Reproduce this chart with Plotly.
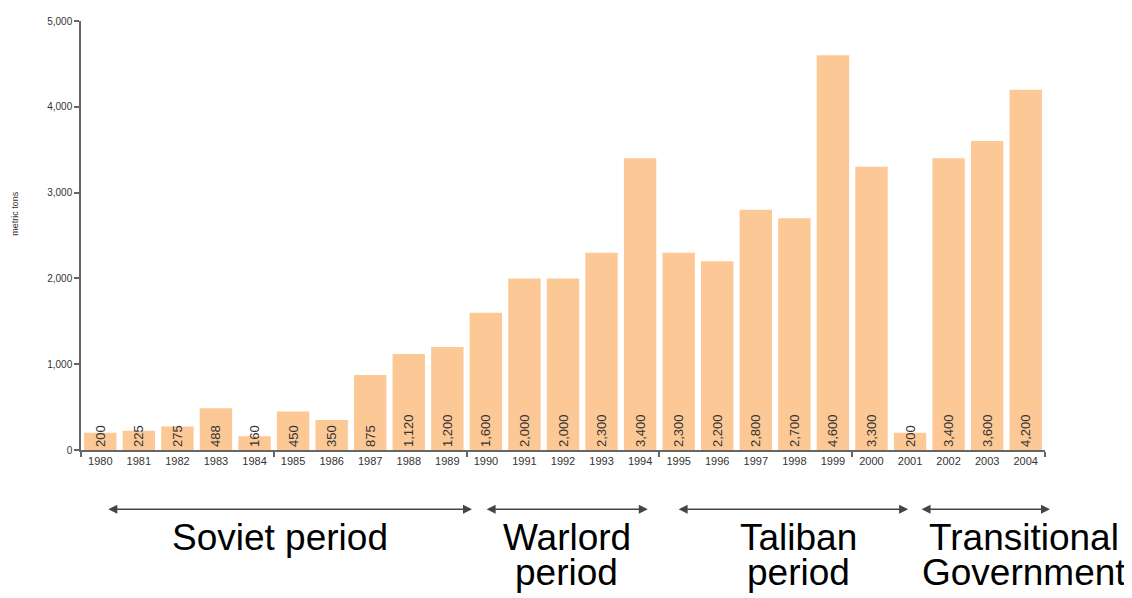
import plotly.graph_objects as go

years = list(range(1980, 2005))
values = [200, 225, 275, 488, 160, 450, 350, 875, 1120, 1200,
          1600, 2000, 2000, 2300, 3400, 2300, 2200, 2800, 2700, 4600,
          3300, 200, 3400, 3600, 4200]
y_ticks = [0, 1000, 2000, 3000, 4000, 5000]
y_tick_labels = ["0", "1,000", "2,000", "3,000", "4,000", "5,000"]
period_lines = [["Soviet period"], ["Warlord", "period"], ["Taliban", "period"],
                ["Transitional", "Government"]]

FONT = "Arial, Liberation Sans, sans-serif"
BAR = "#FCC896"

# the page body adds an 8px offset, so the figure is 8px smaller and margins shifted
fig = go.Figure()
fig.add_trace(go.Bar(
    x=years, y=values, marker=dict(color=BAR, line=dict(width=0)),
    text=[f"{v:,}" for v in values], textposition="inside",
    insidetextanchor="start", textangle=-90,
    textfont=dict(family=FONT, size=13, color="#333333"),
    constraintext="none", cliponaxis=False, hoverinfo="x+y",
))

fig.update_layout(
    width=1124, height=590,
    margin=dict(l=73, r=87, t=7, b=148),
    paper_bgcolor="white", plot_bgcolor="white",
    bargap=0.16, showlegend=False,
    uniformtext=dict(minsize=13, mode="show"),
    font=dict(family=FONT, color="#333333"),
)
fig.update_xaxes(
    range=[1979.5, 2004.5], tickmode="array", tickvals=years,
    ticktext=[str(y) for y in years], ticks="", ticklen=0,
    tickfont=dict(size=11, color="#333333"),
    showline=True, linecolor="#666666", linewidth=1.5, showgrid=False,
    zeroline=False,
    minor=dict(tickmode="array", tickvals=[1979.5, 1984.5, 1989.5, 1994.5, 1999.5, 2004.5],
               ticks="outside", ticklen=5, tickcolor="#666666", tickwidth=1.5),
)
fig.update_yaxes(
    range=[0, 5000], tickmode="array", tickvals=y_ticks, ticktext=y_tick_labels,
    ticks="outside", ticklen=5, tickcolor="#666666", tickwidth=1.5,
    tickfont=dict(size=10, color="#333333"),
    showline=True, linecolor="#666666", linewidth=1.5, showgrid=False,
    zeroline=False,
)

# y axis title
fig.add_annotation(xref="paper", yref="paper", x=-0.068, y=0.552,
                   xanchor="center", yanchor="middle",
                   text="metric tons", textangle=-90, showarrow=False,
                   font=dict(size=9, color="#333333", family=FONT))

# period arrows (year-coordinate spans) and labels
arrow_spans = [(1980.17, 1989.64), (1989.98, 1994.2), (1994.96, 2000.95), (2001.26, 2004.63)]
label_x = [1984.66, 1992.1, 1998.1, 2003.96]
arrow_y = (450 - 510) / 435
line_y = [(450 - 539) / 435, (450 - 574) / 435]
for (x0, x1), lx, lines in zip(arrow_spans, label_x, period_lines):
    fig.add_annotation(xref="x", yref="paper", x=x1, y=arrow_y, ax=x0, ay=0,
                       axref="x", ayref="pixel", text="", showarrow=True,
                       arrowhead=2, arrowside="end+start", arrowsize=1.2,
                       arrowwidth=1.5, arrowcolor="#444444")
    for i, t in enumerate(lines):
        fig.add_annotation(xref="x", yref="paper", x=lx, y=line_y[i], text=t,
                           showarrow=False, yanchor="middle", xanchor="center",
                           font=dict(size=37, color="#000000", family=FONT))

fig.write_html("out.html")
